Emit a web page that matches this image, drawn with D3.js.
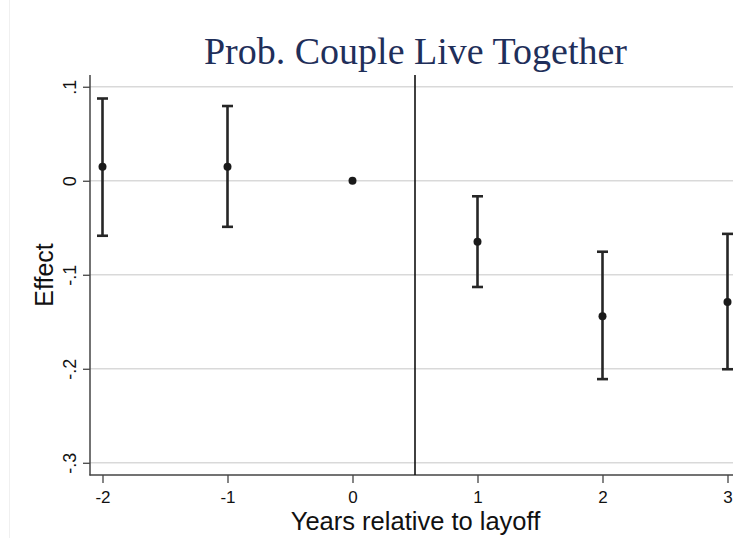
<!DOCTYPE html>
<html lang="en">
<head>
    <meta charset="UTF-8">
    <title>Prob. Couple Live Together</title>
    <style>
        body { margin: 0; background: #fff; }
    </style>
</head>
<body>
    <script src="https://d3js.org/d3.v7.min.js"></script>
    <script>
        // Event-study estimates
        let years = [-2, -1, 0, 1, 2, 3];
        let effect = [0.015, 0.015, 0, -0.065, -0.144, -0.129];
        let ciLow = [-0.0585, -0.049, 0, -0.113, -0.211, -0.2005];
        let ciHigh = [0.0875, 0.0795, 0, -0.0165, -0.0755, -0.0565];

        let yTicks = [0.1, 0, -0.1, -0.2, -0.3];
        let yTickLabels = [".1", "0", "-.1", "-.2", "-.3"];
        let xTicks = [-2, -1, 0, 1, 2, 3];
        let xTickLabels = ["-2", "-1", "0", "1", "2", "3"];
        let layoffLine = 0.5;

        let svgWidth = 733;
        let svgHeight = 538;
        let sansFont = "'Liberation Sans', Arial, sans-serif";

        let svg = d3.select("body")
            .append("svg")
            .attr("width", svgWidth)
            .attr("height", svgHeight);

        // faint outer frame line on the left
        svg.append("line")
            .attr("x1", 9.5).attr("x2", 9.5)
            .attr("y1", 0).attr("y2", svgHeight)
            .attr("stroke", "#f0f0f0")
            .attr("stroke-width", 1);

        // Scales (plot region runs past the right edge of the image)
        let x = d3.scaleLinear().domain([-2.1, 3.1]).range([90, 740]);
        let y = d3.scaleLinear().domain([-0.313, 0.1125]).range([475, 75]);

        // Gridlines
        svg.append("g")
            .selectAll("line")
            .data(yTicks)
            .enter()
            .append("line")
            .attr("x1", 90)
            .attr("x2", svgWidth)
            .attr("y1", d => y(d))
            .attr("y2", d => y(d))
            .attr("stroke", "#d9d9d9")
            .attr("stroke-width", 1.5);

        // Y axis
        let yAxis = d3.axisLeft(y)
            .tickValues(yTicks)
            .tickSize(7)
            .tickFormat((d, i) => yTickLabels[i]);

        let yG = svg.append("g")
            .attr("transform", "translate(90,0)")
            .call(yAxis)
            .attr("font-size", 18)
            .attr("font-family", sansFont);
        yG.select(".domain").remove();
        yG.selectAll(".tick line").attr("stroke", "#444").attr("stroke-width", 1.3);
        yG.selectAll(".tick text")
            .attr("transform", "rotate(-90)")
            .attr("x", 0)
            .attr("y", -14)
            .attr("dy", 0)
            .attr("text-anchor", "middle")
            .attr("fill", "#111");

        // X axis
        let xAxis = d3.axisBottom(x)
            .tickValues(xTicks)
            .tickSize(8)
            .tickFormat((d, i) => xTickLabels[i]);

        let xG = svg.append("g")
            .attr("transform", "translate(0,475)")
            .call(xAxis)
            .attr("font-size", 17)
            .attr("font-family", sansFont);
        xG.select(".domain").remove();
        xG.selectAll(".tick line").attr("stroke", "#444").attr("stroke-width", 1.3);
        xG.selectAll(".tick text")
            .attr("y", 28)
            .attr("dy", 0)
            .attr("fill", "#111");

        // Axis lines
        svg.append("line")
            .attr("x1", 90).attr("x2", 90)
            .attr("y1", 75).attr("y2", 475.5)
            .attr("stroke", "#444").attr("stroke-width", 1.5);
        svg.append("line")
            .attr("x1", 89.5).attr("x2", svgWidth)
            .attr("y1", 475).attr("y2", 475)
            .attr("stroke", "#444").attr("stroke-width", 1.5);

        // Vertical line at the layoff
        svg.append("line")
            .attr("x1", x(layoffLine)).attr("x2", x(layoffLine))
            .attr("y1", 75).attr("y2", 475)
            .attr("stroke", "#111").attr("stroke-width", 1.6);

        // Error bars
        let data = years.map((yr, i) => ({yr: yr, est: effect[i], lo: ciLow[i], hi: ciHigh[i]}));
        let bars = data.filter(d => d.hi !== d.lo);

        let barG = svg.append("g").attr("stroke", "#262626").attr("stroke-width", 2.6);
        barG.selectAll(".whisker")
            .data(bars)
            .enter()
            .append("line")
            .attr("x1", d => x(d.yr)).attr("x2", d => x(d.yr))
            .attr("y1", d => y(d.hi)).attr("y2", d => y(d.lo));
        barG.selectAll(".capHi")
            .data(bars)
            .enter()
            .append("line")
            .attr("x1", d => x(d.yr) - 5.5).attr("x2", d => x(d.yr) + 5.5)
            .attr("y1", d => y(d.hi)).attr("y2", d => y(d.hi));
        barG.selectAll(".capLo")
            .data(bars)
            .enter()
            .append("line")
            .attr("x1", d => x(d.yr) - 5.5).attr("x2", d => x(d.yr) + 5.5)
            .attr("y1", d => y(d.lo)).attr("y2", d => y(d.lo));

        // Points
        svg.selectAll(".pt")
            .data(data)
            .enter()
            .append("circle")
            .attr("cx", d => x(d.yr))
            .attr("cy", d => y(d.est))
            .attr("r", 4)
            .attr("fill", "#1a1a1a");

        // Title
        svg.append("text")
            .attr("x", 415.5)
            .attr("y", 64)
            .attr("text-anchor", "middle")
            .attr("font-family", "'Liberation Serif', 'Times New Roman', serif")
            .attr("font-size", 38)
            .attr("fill", "#1f2f5a")
            .text("Prob. Couple Live Together");

        // Axis titles
        svg.append("text")
            .attr("x", 415.5)
            .attr("y", 530)
            .attr("text-anchor", "middle")
            .attr("font-family", sansFont)
            .attr("font-size", 25.5)
            .attr("fill", "#111")
            .text("Years relative to layoff");

        svg.append("text")
            .attr("transform", "translate(53,275) rotate(-90)")
            .attr("text-anchor", "middle")
            .attr("font-family", sansFont)
            .attr("font-size", 25)
            .attr("fill", "#111")
            .text("Effect");
    </script>
</body>
</html>
